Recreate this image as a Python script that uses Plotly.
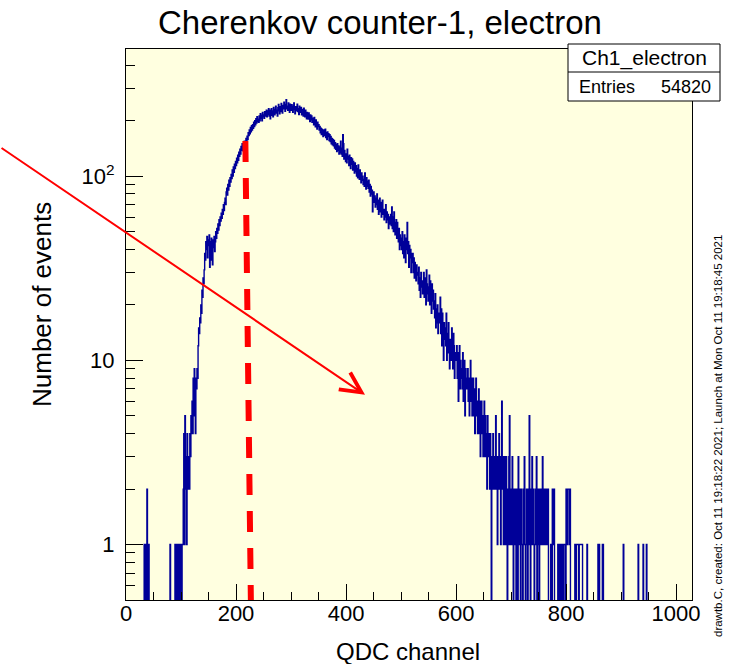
import numpy as np
import plotly.graph_objects as go

# ---------------- data ----------------
n_bins = 1024                      # QDC channels 0..1023, one bin per channel
low_bins = {33: 1, 35: 1, 38: 2, 40: 1, 41: 1,
            80: 1, 89: 1, 92: 1, 93: 1, 95: 1, 98: 1}
rise_counts = [  # channels 100..259
    1, 0, 1, 1, 2, 4, 1, 5, 2, 3,
    1, 4, 2, 3, 3, 2, 4, 3, 5, 4,
    6, 4, 8, 5, 9, 6, 4, 8, 7, 9,
    8, 12, 15, 14, 17, 16, 20, 18, 24, 22,
    28, 26, 31, 38, 35, 44, 40, 47, 36, 45,
    42, 48, 32, 44, 35, 46, 40, 33, 45, 41,
    47, 39, 44, 50, 46, 52, 49, 55, 51, 58,
    54, 60, 57, 63, 59, 66, 62, 70, 65, 72,
    76, 70, 82, 86, 79, 90, 84, 95, 88, 98,
    93, 102, 97, 108, 100, 112, 105, 116, 110, 120,
    114, 125, 118, 130, 122, 135, 128, 140, 132, 145,
    138, 150, 142, 137, 148, 155, 144, 152, 160, 149,
    165, 158, 172, 166, 178, 170, 184, 174, 188, 178,
    190, 182, 196, 186, 200, 190, 205, 194, 210, 198,
    204, 196, 212, 200, 218, 206, 214, 200, 222, 210,
    215, 206, 224, 212, 220, 228, 210, 226, 216, 232,
]
peak_counts = [  # channels 260..399
    212, 228, 205, 220, 232, 214, 226, 210, 236, 222,
    215, 230, 240, 220, 228, 212, 235, 245, 226, 218,
    238, 224, 248, 230, 220, 242, 232, 252, 236, 225,
    245, 260, 232, 240, 228, 250, 238, 222, 246, 234,
    228, 244, 236, 222, 240, 250, 230, 218, 238, 226,
    235, 246, 224, 232, 216, 240, 228, 222, 236, 215,
    230, 220, 212, 234, 224, 210, 228, 218, 205, 222,
    214, 204, 220, 210, 198, 215, 202, 212, 196, 206,
    200, 190, 208, 195, 185, 202, 192, 180, 196, 186,
    190, 178, 186, 172, 182, 168, 180, 175, 164, 178,
    176, 166, 180, 162, 172, 158, 174, 164, 170, 156,
    168, 154, 164, 150, 160, 148, 158, 146, 156, 142,
    152, 140, 148, 136, 150, 138, 146, 132, 144, 134,
    155, 132, 142, 128, 168, 150, 124, 138, 130, 120,
]
fall_counts = [  # channels 400..599
    132, 118, 140, 124, 128, 114, 130, 120, 110, 126,
    116, 124, 108, 120, 112, 104, 118, 106, 114, 100,
    110, 98, 115, 104, 96, 108, 100, 92, 104, 95,
    100, 90, 96, 88, 104, 92, 85, 98, 88, 94,
    86, 95, 82, 90, 78, 88, 80, 84, 64, 76,
    82, 72, 78, 68, 76, 70, 80, 66, 74, 62,
    70, 76, 64, 72, 60, 68, 74, 62, 66, 58,
    66, 60, 70, 56, 64, 58, 62, 52, 60, 55,
    58, 62, 54, 68, 52, 60, 50, 64, 56, 48,
    54, 58, 46, 56, 50, 44, 52, 40, 48, 42,
    46, 40, 50, 38, 44, 36, 48, 42, 34, 46,
    40, 56, 38, 44, 32, 42, 36, 40, 30, 38,
    34, 38, 30, 36, 28, 34, 31, 27, 33, 29,
    30, 26, 32, 24, 28, 22, 30, 25, 27, 23,
    26, 30, 22, 28, 24, 20, 31, 26, 23, 21,
    25, 29, 20, 27, 22, 18, 26, 21, 24, 19,
    21, 17, 23, 15, 19, 16, 20, 14, 18, 16,
    17, 22, 14, 19, 12, 18, 15, 10, 16, 13,
    15, 12, 18, 10, 14, 11, 16, 13, 9, 12,
    13, 10, 15, 11, 9, 14, 12, 8, 11, 10,
]
edge_counts = [  # channels 600..769
    10, 12, 8, 11, 6, 9, 12, 7, 10, 8,
    9, 7, 11, 6, 8, 10, 5, 9, 7, 8,
    7, 9, 6, 8, 5, 7, 10, 6, 8, 5,
    6, 8, 5, 7, 4, 6, 8, 5, 6, 4,
    5, 7, 4, 6, 3, 5, 6, 4, 5, 3,
    4, 6, 3, 5, 3, 4, 2, 5, 3, 4,
    3, 2, 4, 3, 0, 3, 2, 4, 2, 3,
    2, 3, 5, 2, 3, 1, 3, 2, 4, 2,
    3, 1, 2, 6, 2, 3, 1, 2, 3, 1,
    2, 3, 1, 0, 2, 1, 3, 5, 1, 2,
    1, 2, 3, 1, 0, 2, 1, 2, 1, 0,
    2, 1, 0, 3, 1, 2, 1, 0, 2, 1,
    1, 0, 2, 1, 3, 1, 0, 1, 2, 1,
    0, 2, 1, 5, 1, 0, 2, 1, 3, 1,
    2, 1, 0, 1, 2, 1, 3, 0, 1, 2,
    1, 0, 2, 1, 2, 2, 1, 3, 2, 1,
    2, 1, 2, 2, 1, 2, 1, 2, 0, 0,
]
tail_bins = {772: 1, 775: 2, 776: 2, 777: 1, 778: 2, 785: 1, 787: 1, 788: 1,
             790: 1, 791: 1, 793: 1, 794: 1, 796: 1, 797: 1, 798: 1,
             800: 2, 801: 2, 802: 1, 803: 2, 804: 2, 805: 2, 806: 1, 807: 2,
             816: 1, 817: 1, 819: 1, 820: 1, 821: 1, 822: 1, 824: 1, 825: 1,
             826: 1, 827: 1, 828: 1, 829: 1, 838: 1, 858: 1, 860: 1, 866: 1,
             867: 1, 904: 1, 931: 1, 940: 1, 946: 1}

cut_line_x = [217, 227]        # red dashed cut line (top -> bottom)
cut_line_y = [155, 0.5]
arrow_tail = (-229, 144)       # (channel, events)
arrow_head = (434.5, 6.5)

x_tickvals = [0, 200, 400, 600, 800, 1000]
y_tickvals = [1, 10, 100]
y_ticktext = ["1", "10", "10<sup>2</sup>"]
hist_name = "Ch1_electron"
entries = "54820"
title_text = "Cherenkov counter-1, electron"
x_title = "QDC channel"
y_title = "Number of events"
stamp = "drawtb.C, created: Oct 11 19:18:22 2021; Launch at Mon Oct 11 19:18:45 2021"

# ---------------- build histogram ----------------
counts = np.zeros(n_bins)
for ch, v in low_bins.items():
    counts[ch] = v
main = rise_counts + peak_counts + fall_counts + edge_counts
counts[100:100 + len(main)] = main
for ch, v in tail_bins.items():
    counts[ch] = v

edges = np.arange(n_bins + 1)
yplot = np.where(counts > 0, counts, 1e-3)  # empty bins drop below the frame
ys = np.append(yplot, yplot[-1])

FONT = "Liberation Sans, Arial, Helvetica, sans-serif"

fig = go.Figure()
fig.add_trace(go.Scatter(x=edges, y=ys, mode="lines", line_shape="hv",
                         line=dict(color="#000099", width=1.4), hoverinfo="skip",
                         showlegend=False))
fig.add_trace(go.Scatter(x=cut_line_x, y=cut_line_y, mode="lines",
                         line=dict(color="#ff0000", width=6, dash="21px,16px"),
                         showlegend=False, hoverinfo="skip"))

ymin, ymax = np.log10(0.5), np.log10(490)
minor_y = [0.6, 0.7, 0.8, 0.9] + [m * d for d in (1, 10) for m in range(2, 10)] + [200, 300, 400]

fig.update_layout(
    width=731, height=664, autosize=False,
    margin=dict(l=126, r=39, t=49, b=64),
    paper_bgcolor="white", plot_bgcolor="#ffffe0",
    font=dict(family=FONT, color="black", size=22),
    showlegend=False,
)
fig.update_xaxes(range=[0, 1029], showgrid=False, zeroline=False,
                 showline=True, linecolor="black", linewidth=1, mirror=True,
                 ticks="inside", ticklen=16, tickcolor="black", tickwidth=1,
                 tickvals=x_tickvals, tickfont=dict(size=22, family=FONT),
                 ticklabelstandoff=-6,
                 minor=dict(tickvals=list(range(50, 1001, 50)), ticks="inside",
                            ticklen=8, tickcolor="black"))
fig.update_yaxes(type="log", range=[ymin, ymax], showgrid=False, zeroline=False,
                 showline=True, linecolor="black", linewidth=1, mirror=True,
                 ticks="inside", ticklen=17, tickcolor="black", tickwidth=1,
                 tickvals=y_tickvals, ticktext=y_ticktext, ticklabelstandoff=6,
                 tickfont=dict(size=22, family=FONT),
                 minor=dict(tickvals=minor_y, ticks="inside", ticklen=9,
                            tickcolor="black"))

W, H = 566.0, 551.0
def px(xp):
    return (xp - 126) / W
def py(yp):
    return (600 - yp) / H

ann = [
    dict(text=title_text, x=px(380), y=py(22), xref="paper", yref="paper",
         showarrow=False, font=dict(size=33, family=FONT), xanchor="center", yanchor="middle"),
    dict(text=x_title, x=px(408), y=py(651), xref="paper", yref="paper",
         showarrow=False, font=dict(size=24, family=FONT), xanchor="center", yanchor="middle"),
    dict(text=y_title, x=px(42), y=py(305), xref="paper", yref="paper", textangle=-90,
         showarrow=False, font=dict(size=26, family=FONT), xanchor="center", yanchor="middle"),
    dict(text=stamp, x=px(718), y=py(436), xref="paper", yref="paper", textangle=-90,
         showarrow=False, font=dict(size=11.5, family=FONT), xanchor="center", yanchor="middle"),
    dict(text=hist_name, x=px(644), y=py(58), xref="paper", yref="paper",
         showarrow=False, font=dict(size=21, family=FONT), xanchor="center", yanchor="middle"),
    dict(text="Entries", x=px(577), y=py(87), xref="paper", yref="paper",
         showarrow=False, font=dict(size=18, family=FONT), xanchor="left", yanchor="middle"),
    dict(text=entries, x=px(713), y=py(87), xref="paper", yref="paper",
         showarrow=False, font=dict(size=18, family=FONT), xanchor="right", yanchor="middle"),
    dict(text="", x=arrow_head[0], y=np.log10(arrow_head[1]), xref="x", yref="y",
         ax=arrow_tail[0], ay=np.log10(arrow_tail[1]), axref="x", ayref="y",
         showarrow=True, arrowhead=5, arrowsize=2, arrowwidth=2, arrowcolor="#ff0000",
         standoff=0),
]
fig.update_layout(annotations=ann)

fig.add_shape(type="rect", xref="paper", yref="paper", x0=px(568), x1=px(720),
              y0=py(101), y1=py(44), line=dict(color="black", width=1),
              fillcolor="white", layer="above")
fig.add_shape(type="line", xref="paper", yref="paper", x0=px(568), x1=px(720),
              y0=py(72), y1=py(72), line=dict(color="black", width=1), layer="above")

fig.write_html("out.html")
